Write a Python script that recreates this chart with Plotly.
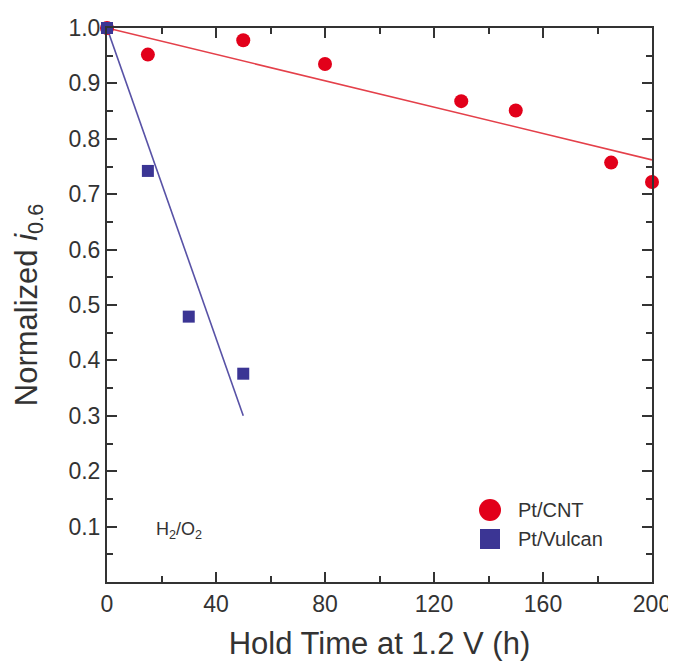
import plotly.graph_objects as go

# Data
cnt_time = [0, 15, 50, 80, 130, 150, 185, 200]
cnt_norm = [1.0, 0.952, 0.978, 0.935, 0.868, 0.851, 0.757, 0.722]
vulcan_time = [0, 15, 30, 50]
vulcan_norm = [1.0, 0.742, 0.479, 0.376]
cnt_fit_time = [0, 200]
cnt_fit_norm = [1.0, 0.762]
vulcan_fit_time = [0, 50]
vulcan_fit_norm = [1.0, 0.30]
x_ticks = [0, 40, 80, 120, 160, 200]
y_ticks = [0.1, 0.2, 0.3, 0.4, 0.5, 0.6, 0.7, 0.8, 0.9, 1.0]

RED = "#e2001a"
BLUE = "#3b3594"
AX = "#333333"
FONT = "Liberation Sans, Arial, sans-serif"

# page body has an 8px default margin; figure coordinates are offset by it
OFF = 8
W, H = 668, 653
# plot-area geometry (page pixels)
L, R, T, B = 107, 652, 28, 582
PW, PH = R - L, B - T

def px(x):
    return (x - L) / PW

def py(y):
    return (B - y) / PH

fig = go.Figure()
fig.add_trace(go.Scatter(x=cnt_fit_time, y=cnt_fit_norm, mode="lines",
                         line=dict(color="#e4404a", width=1.6), showlegend=False, cliponaxis=False))
fig.add_trace(go.Scatter(x=vulcan_fit_time, y=vulcan_fit_norm, mode="lines",
                         line=dict(color="#5852a6", width=1.6), showlegend=False, cliponaxis=False))
fig.add_trace(go.Scatter(x=cnt_time, y=cnt_norm, mode="markers", name="Pt/CNT",
                         marker=dict(symbol="circle", size=14, color=RED, line=dict(width=0)),
                         showlegend=False, cliponaxis=False))
fig.add_trace(go.Scatter(x=vulcan_time, y=vulcan_norm, mode="markers", name="Pt/Vulcan",
                         marker=dict(symbol="square", size=12, color=BLUE, line=dict(width=0)),
                         showlegend=False, cliponaxis=False))

# Legend drawn manually
fig.add_shape(type="circle", xref="paper", yref="paper",
              x0=px(490 - 11), x1=px(490 + 11), y0=py(510 + 11), y1=py(510 - 11),
              fillcolor=RED, line=dict(width=0))
fig.add_shape(type="rect", xref="paper", yref="paper",
              x0=px(490 - 10), x1=px(490 + 10), y0=py(539 + 10), y1=py(539 - 10),
              fillcolor=BLUE, line=dict(width=0))
fig.add_annotation(xref="paper", yref="paper", x=px(516), y=py(510),
                   text="Pt/CNT", showarrow=False, xanchor="left", yanchor="middle",
                   font=dict(family=FONT, size=20, color=AX))
fig.add_annotation(xref="paper", yref="paper", x=px(516), y=py(539),
                   text="Pt/Vulcan", showarrow=False, xanchor="left", yanchor="middle",
                   font=dict(family=FONT, size=20, color=AX))
fig.add_annotation(xref="paper", yref="paper", x=px(154), y=py(530),
                   text="H<sub>2</sub>/O<sub>2</sub>", showarrow=False, xanchor="left", yanchor="middle",
                   font=dict(family=FONT, size=18, color=AX))

axis_common = dict(
    showline=True, linecolor=AX, linewidth=2, mirror="ticks",
    ticks="inside", ticklen=10, tickwidth=1.8, tickcolor=AX,
    showgrid=False, zeroline=False, automargin=False,
    ticklabeloverflow="allow",
    tickfont=dict(family=FONT, size=23, color=AX),
)

fig.update_xaxes(range=[0, 200], tickvals=x_ticks,
                 minor=dict(ticks="inside", ticklen=6, tickwidth=1.5, tickcolor=AX, dtick=20, tick0=0),
                 title=dict(text="Hold Time at 1.2 V (h)", font=dict(family=FONT, size=31, color=AX), standoff=26),
                 **axis_common)
fig.update_yaxes(range=[0, 1.0], tickvals=y_ticks, ticktext=[f"{v:.1f}" for v in y_ticks],
                 minor=dict(ticks="inside", ticklen=6, tickwidth=1.5, tickcolor=AX, dtick=0.05, tick0=0),
                 title=dict(text="Normalized <i>i</i><sub>0.6</sub>", font=dict(family=FONT, size=31, color=AX), standoff=22),
                 **axis_common)

fig.update_layout(
    width=W, height=H,
    margin=dict(l=L - OFF, r=W - (R - OFF), t=T - OFF, b=H - (B - OFF)),
    paper_bgcolor="white", plot_bgcolor="white",
    showlegend=False,
)

fig.write_html("out.html")
